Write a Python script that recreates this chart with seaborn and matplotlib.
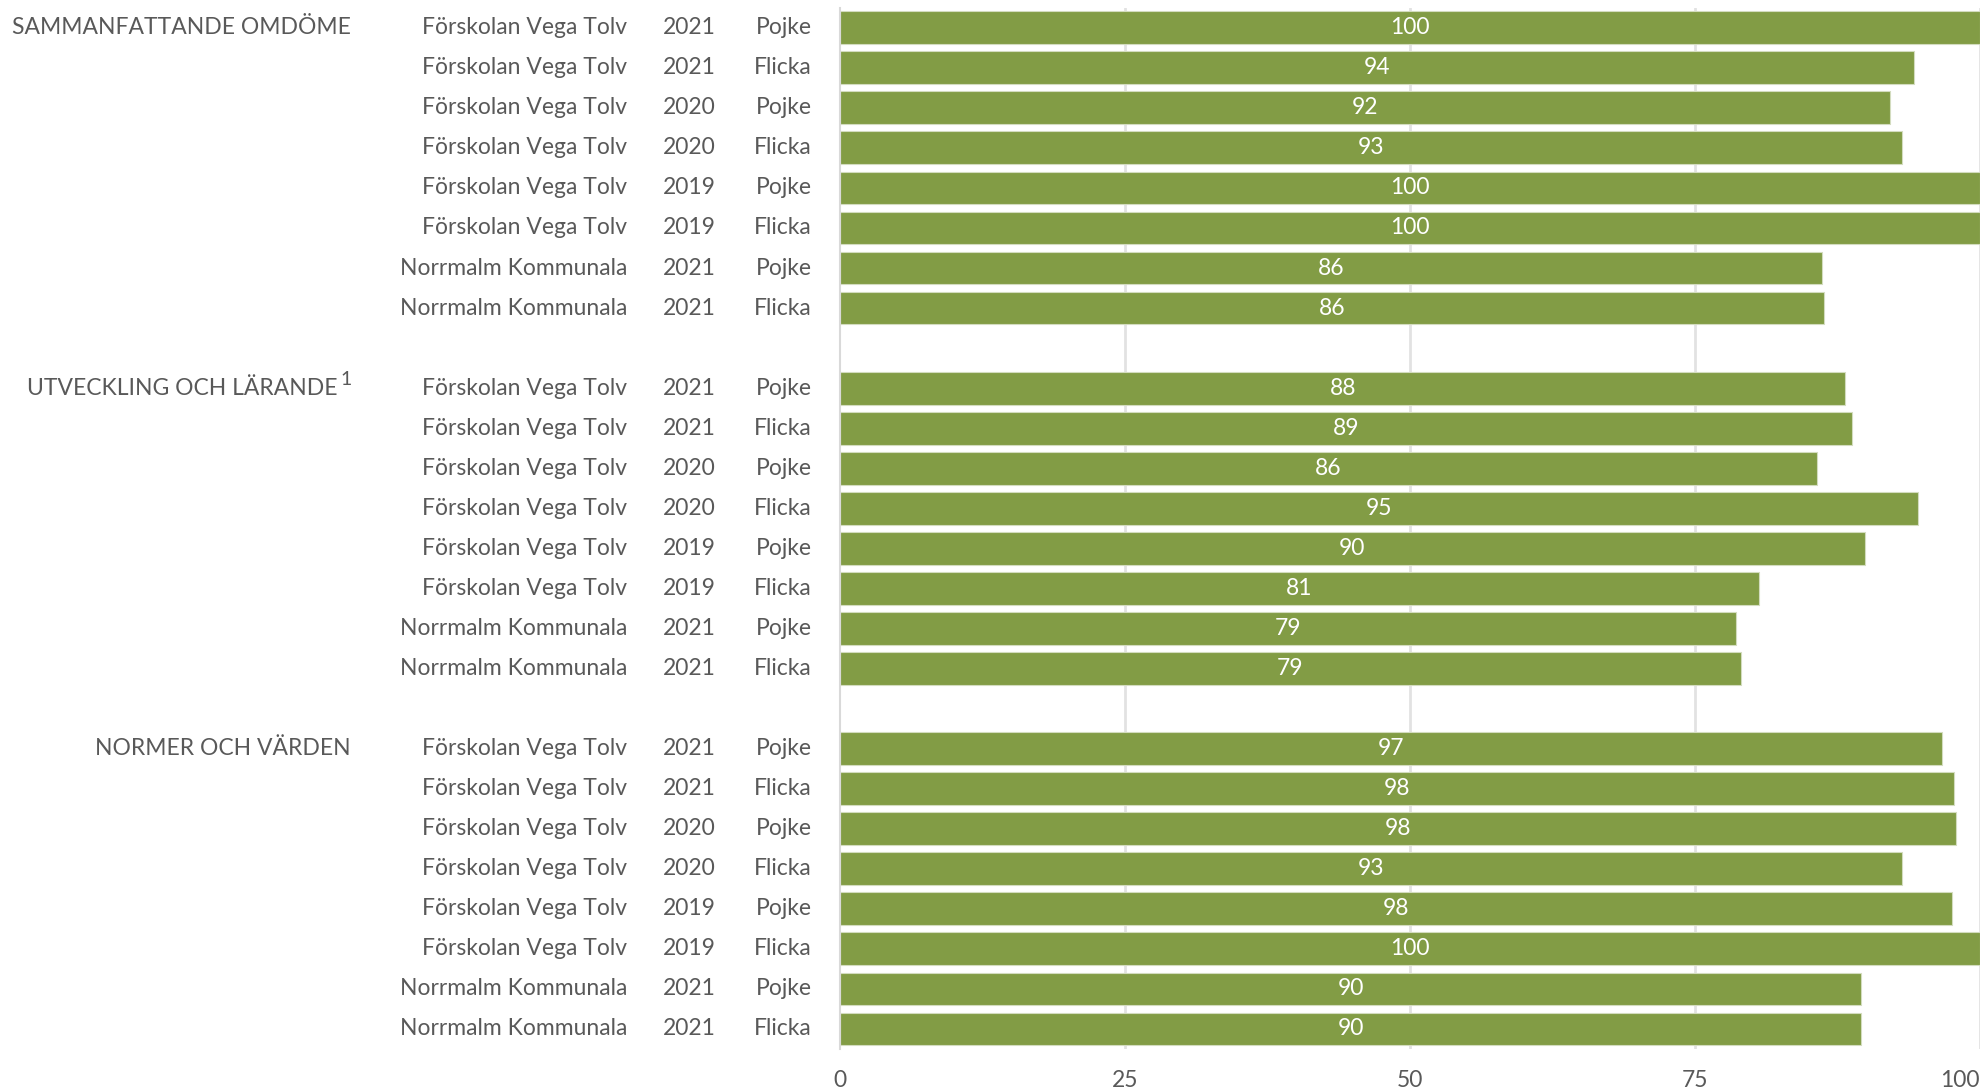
import matplotlib
matplotlib.use("Agg")
import matplotlib.pyplot as plt
import numpy as np
import pandas as pd
import seaborn as sns

# --- data ---
groups = ["SAMMANFATTANDE OMDÖME", "UTVECKLING OCH LÄRANDE", "NORMER OCH VÄRDEN"]
schools = ["Förskolan Vega Tolv"] * 6 + ["Norrmalm Kommunala"] * 2
years = ["2021", "2021", "2020", "2020", "2019", "2019", "2021", "2021"]
genders = ["Pojke", "Flicka"] * 4

sammanfattande = [100, 94.2, 92.1, 93.2, 100, 100, 86.1, 86.3]
utveckling = [88.2, 88.8, 85.7, 94.6, 89.9, 80.6, 78.6, 79.0]
normer = [96.7, 97.7, 97.9, 93.2, 97.5, 100, 89.6, 89.6]
x_ticks = [0, 25, 50, 75, 100]

GREEN = "#829c45"
TEXT = "#595959"
FS = 16.5

sns.set_style("white")
plt.rcParams["font.family"] = ["Lato", "DejaVu Sans"]

rows = []
for g, vals in enumerate([sammanfattande, utveckling, normer]):
    for i, v in enumerate(vals):
        rows.append({"group": groups[g], "pos": g * 9 + i, "value": v,
                     "school": schools[i], "year": years[i], "gender": genders[i]})
df = pd.DataFrame(rows)

fig = plt.figure(figsize=(19.83, 10.92), dpi=100)
ax = fig.add_axes([840 / 1983, 1 - 1049 / 1092, 1140 / 1983, 1041.3 / 1092])

for x in x_ticks[1:]:
    ax.axvline(x, color="#e2e2e2", lw=2, zorder=0)

sns.barplot(data=df, x="value", y="pos", orient="h", native_scale=True,
            width=0.82, color=GREEN, saturation=1, edgecolor="#d3dcbf",
            linewidth=0.8, ax=ax, zorder=2)

ax.set_xlim(0, 100)
ax.set_ylim(25.5, -0.5)
ax.set_xticks(x_ticks)
ax.set_xticklabels([str(t) for t in x_ticks])
ax.tick_params(axis="x", length=0, pad=15, labelsize=FS, labelcolor=TEXT)
ax.get_xticklabels()[-1].set_horizontalalignment("right")
ax.set_yticks([])
ax.set_yticks(np.arange(-0.5, 26, 1), minor=True)
ax.tick_params(axis="y", which="minor", length=14, width=1.5, color="#cdd5e6")
ax.set_xlabel("")
ax.set_ylabel("")
for s in ["top", "right", "bottom"]:
    ax.spines[s].set_visible(False)
ax.spines["left"].set_color("#d9d9d9")
ax.spines["left"].set_linewidth(1.5)

# value labels inside bars
for _, r in df.iterrows():
    ax.text(r["value"] / 2, r["pos"], f"{r['value']:.0f}", ha="center",
            va="center", color="white", fontsize=FS, zorder=3)

# multi-level category labels
trans = ("axes fraction", "data")
for _, r in df.iterrows():
    for txt, off in [(r["gender"], -28), (r["year"], -124), (r["school"], -213)]:
        ax.annotate(txt, xy=(0, r["pos"]), xycoords=trans, xytext=(off, 0),
                    textcoords="offset pixels", ha="right", va="center",
                    fontsize=FS, color=TEXT)

for g, name in enumerate(groups):
    if g == 1:
        ax.annotate(name, xy=(0, g * 9), xycoords=trans, xytext=(-502, 0),
                    textcoords="offset pixels", ha="right", va="center",
                    fontsize=FS, color=TEXT)
        ax.annotate("1", xy=(0, g * 9), xycoords=trans, xytext=(-488, 9),
                    textcoords="offset pixels", ha="right", va="center",
                    fontsize=14, color=TEXT)
    else:
        ax.annotate(name, xy=(0, g * 9), xycoords=trans, xytext=(-489, 0),
                    textcoords="offset pixels", ha="right", va="center",
                    fontsize=FS, color=TEXT)

fig.savefig("out.png", dpi=100)
